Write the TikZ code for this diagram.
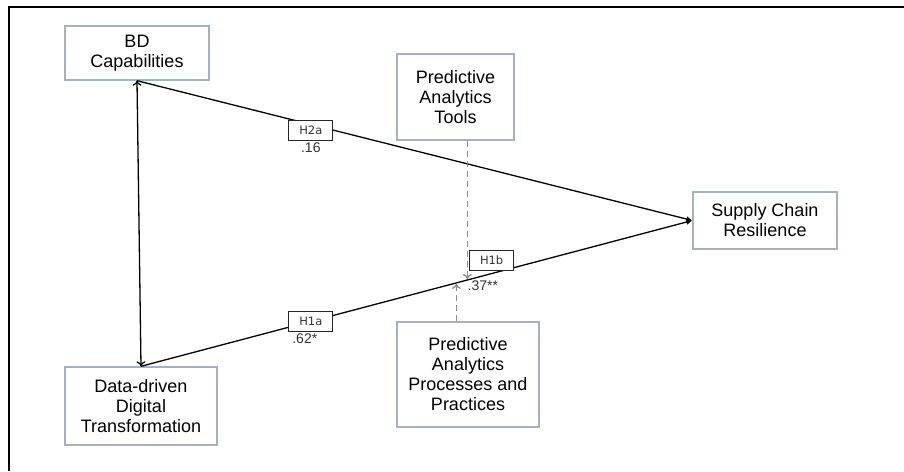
\documentclass[tikz,border=0pt]{standalone}
\usepackage{fontspec}
\setmainfont{Liberation Sans}
\newfontfamily\hypfont{DejaVu Sans}
\usetikzlibrary{arrows.meta,positioning}
\definecolor{boxline}{HTML}{A3B0C8}
\definecolor{dashgrey}{HTML}{8C8C8C}

\begin{document}
\begin{tikzpicture}[x=1pt, y=-1pt,
	construct/.style={draw=boxline, line width=1.4pt, align=center, font=\fontsize{18}{20}\selectfont, inner sep=2pt},
	hyplabel/.style={draw=black!85, fill=white, line width=0.8pt, text=black!80, font=\hypfont\fontsize{11.5}{12}\selectfont, minimum width=44pt, minimum height=20pt, inner sep=1pt},
	coef/.style={text=black!80, font=\fontsize{14}{15}\selectfont, inner sep=1pt},
	link/.style={draw=black, line width=1.3pt},
	moder/.style={draw=dashgrey, line width=1.3pt, dash pattern=on 6pt off 4pt, -{To[length=5pt,width=9pt]}, shorten >=1pt}]
		\useasboundingbox (0,0) rectangle (904,471);
		\draw [line width=1.8pt] (904,7) -- (9,7) -- (9,471);

		\node [construct, minimum width=144pt, minimum height=54pt] (bd) at (137,53) {BD\\Capabilities};
		\node [construct, minimum width=117pt, minimum height=86pt] (pat) at (455.5,97) {Predictive\\Analytics\\Tools};
		\node [construct, minimum width=144pt, minimum height=57pt] (scr) at (765,220.5) {Supply Chain\\Resilience};
		\node [construct, minimum width=142pt, minimum height=105pt] (papp) at (468,374.5) {Predictive\\Analytics\\Processes and\\Practices};
		\node [construct, minimum width=152pt, minimum height=78pt] (ddt) at (141,406) {Data-driven\\Digital\\Transformation};

		\draw [link, {To[length=5pt,width=9pt]}-{To[length=5pt,width=9pt]}] (bd.south) -- (ddt.north);
		\draw [link, -{Latex[length=6pt,width=6pt]}] (bd.south) -- node [hyplabel, pos=0.313, yshift=-6pt] (h2a) {H2a} (scr.west);
		\draw [link, -{Latex[length=6pt,width=6pt]}] (ddt.north) -- node [hyplabel, pos=0.308] (h1a) {H1a}
			node [hyplabel, pos=0.636, anchor=south, yshift=3pt] (h1b) {H1b}
			node [coef, pos=0.62, anchor=north, yshift=-3pt] (c37) {.37**}
			coordinate [pos=0.592] (mt) coordinate [pos=0.572] (mp) (scr.west);
		\node [coef, below=1pt of h2a] (c16) {.16};
		\node [coef, below=1pt of h1a, xshift=-6pt] (c62) {.62*};

		% moderating effects
		\draw [moder] (mt |- pat.south) -- (mt);
		\draw [moder] (mp |- papp.north) -- (mp);
	\end{tikzpicture}
\end{document}
